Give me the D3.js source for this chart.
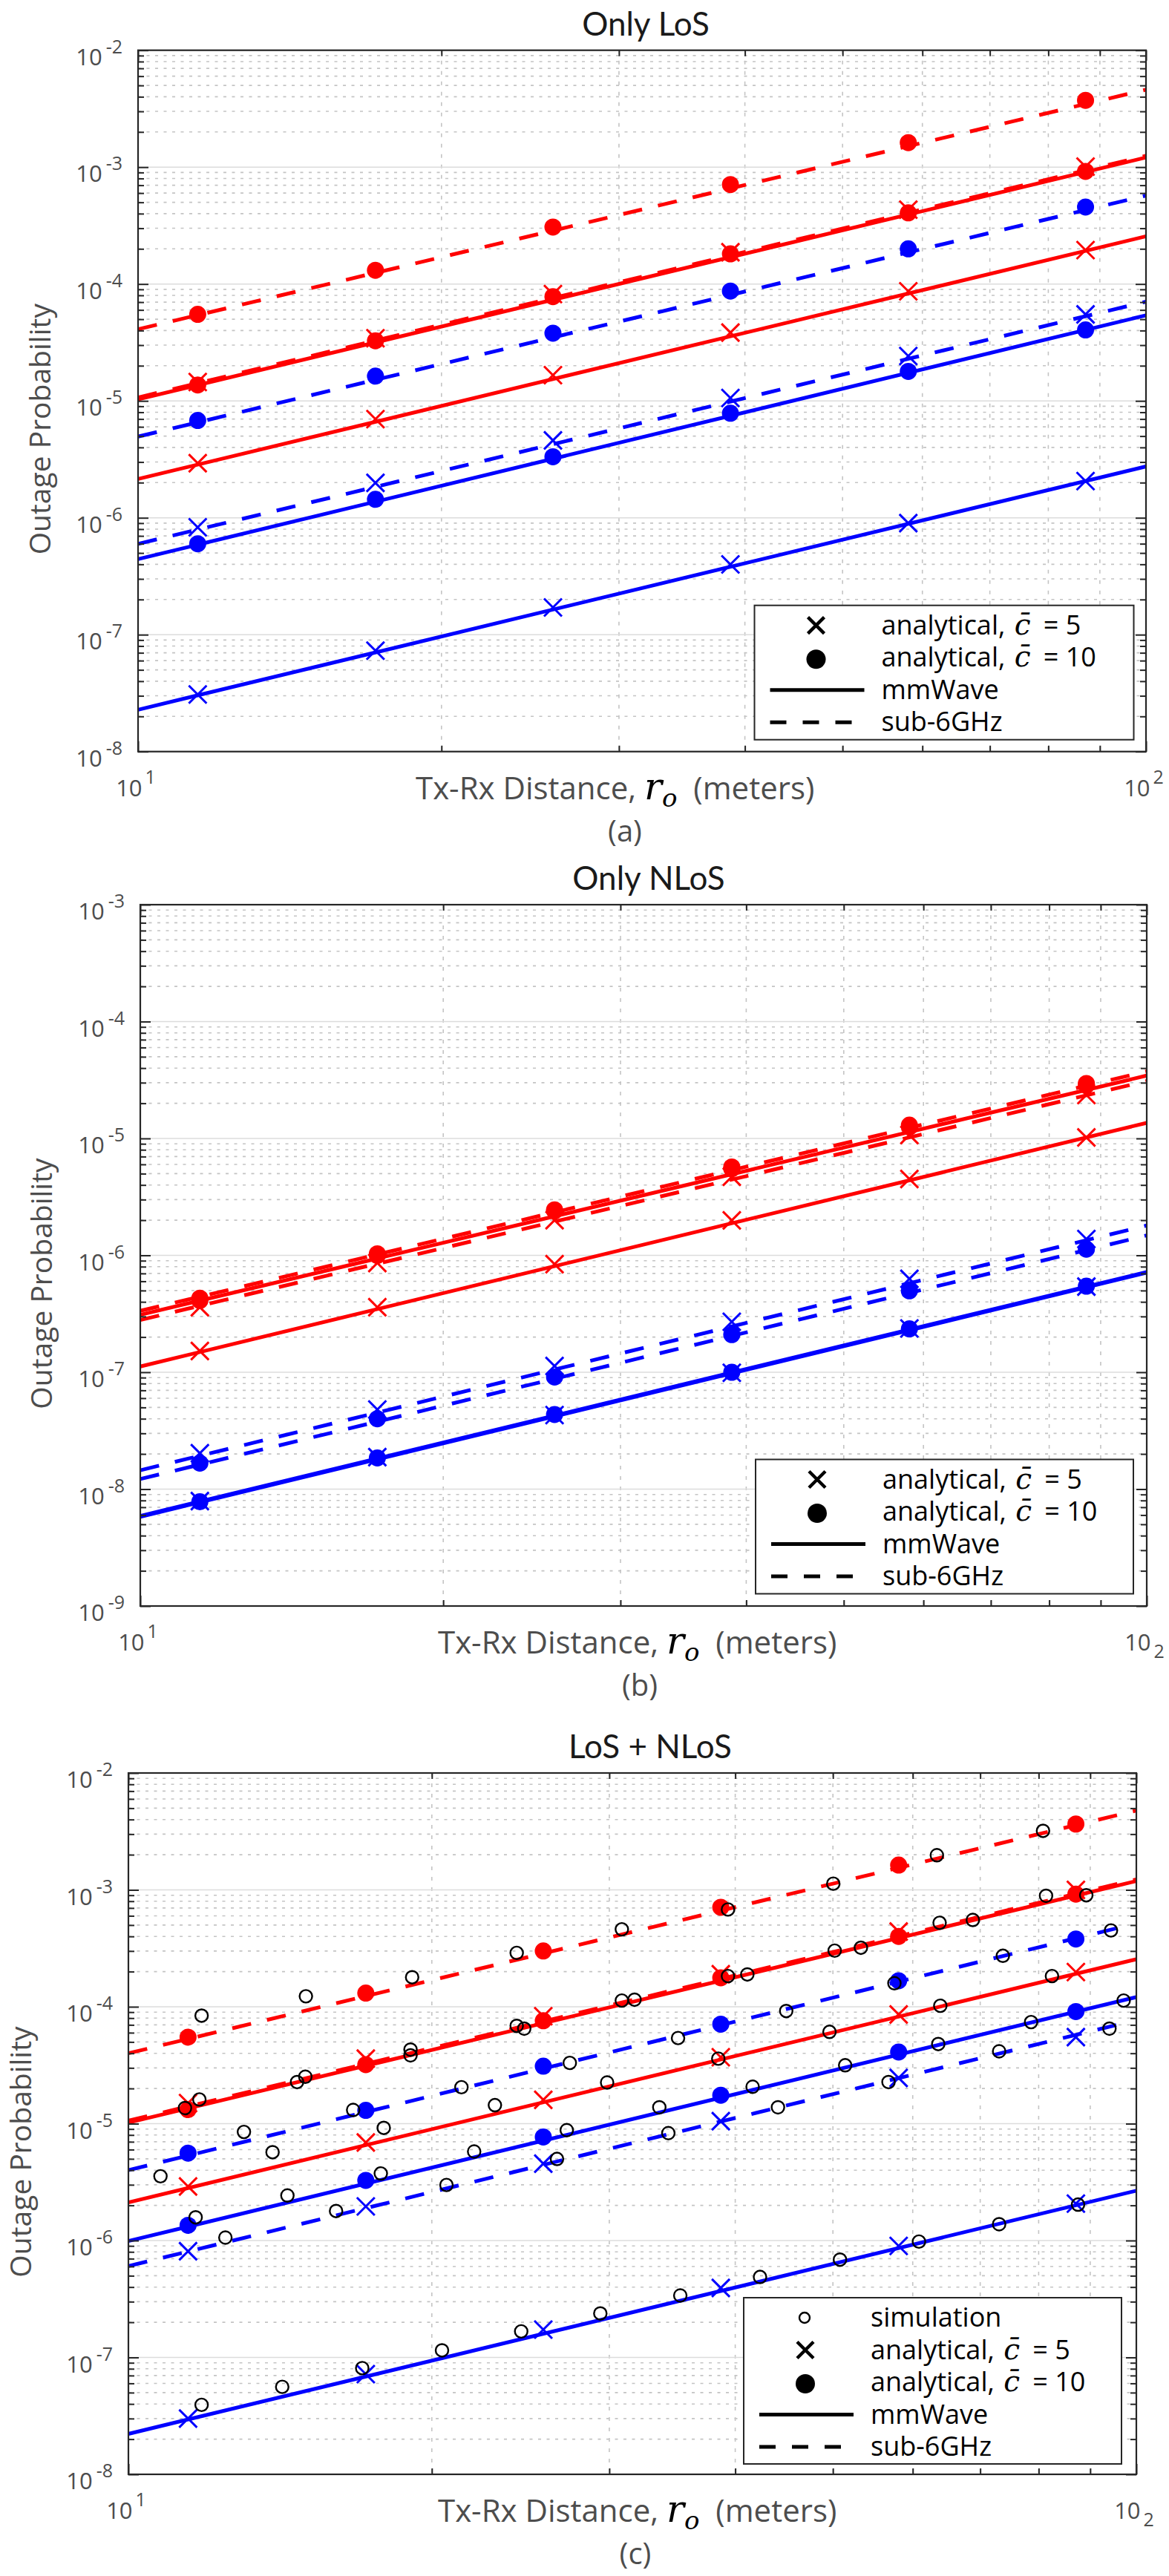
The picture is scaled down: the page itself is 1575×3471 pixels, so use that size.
<!DOCTYPE html>
<html>
<head>
<meta charset="utf-8">
<script src="https://cdn.jsdelivr.net/npm/d3@7"></script>
<style>
  body { margin: 0; background: #fff; }
  svg { display: block; }
</style>
</head>
<body>
<svg id="fig"></svg>
<script>
// x positions of the analytical markers (meters)
const xMarks = [11.46, 17.2, 25.8, 38.7, 58.1, 87.1];
const lineEnds = [10, 100];
const bothSubEnds = [10, 96.3];

// (a) Only LoS -- line values at lineEnds
const losMmRed5 = [2.15e-6, 2.56e-4];
const losMmRed10 = [1.03e-5, 1.21e-3];
const losSubRed5 = [1.07e-5, 1.25e-3];
const losSubRed10 = [4.1e-5, 4.6e-3];
const losMmBlue5 = [2.28e-8, 2.75e-6];
const losMmBlue10 = [4.43e-7, 5.4e-5];
const losSubBlue5 = [5.98e-7, 7.06e-5];
const losSubBlue10 = [4.95e-6, 5.71e-4];
// (a) marker values at xMarks
const losMmRed5Pts = [2.93e-6, 6.98e-6, 1.66e-5, 3.84e-5, 8.67e-5, 1.95e-4];
const losMmRed10Pts = [1.37e-5, 3.27e-5, 7.8e-5, 1.81e-4, 4.06e-4, 9.2e-4];
const losSubRed5Pts = [1.45e-5, 3.44e-5, 8.2e-5, 1.87e-4, 4.33e-4, 1.01e-3];
const losSubRed10Pts = [5.5e-5, 1.31e-4, 3.07e-4, 7.1e-4, 1.62e-3, 3.73e-3];
const losMmBlue5Pts = [3.08e-8, 7.3e-8, 1.71e-7, 3.99e-7, 9.0e-7, 2.06e-6];
const losMmBlue10Pts = [6.0e-7, 1.44e-6, 3.33e-6, 7.85e-6, 1.79e-5, 4.05e-5];
const losSubBlue5Pts = [8.3e-7, 1.99e-6, 4.6e-6, 1.06e-5, 2.42e-5, 5.5e-5];
const losSubBlue10Pts = [6.8e-6, 1.63e-5, 3.8e-5, 8.7e-5, 2.0e-4, 4.56e-4];

// (b) Only NLoS
const nlosMmRed5 = [1.12e-7, 1.36e-5];
const nlosMmRed10 = [3.1e-7, 3.45e-5];
const nlosSubRed5 = [2.8e-7, 3.1e-5];
const nlosSubRed10 = [3.35e-7, 3.75e-5];
const nlosMmBlue5 = [5.8e-9, 7.1e-7];
const nlosMmBlue10 = [5.9e-9, 7.2e-7];
const nlosSubBlue5 = [1.45e-8, 1.8e-6];
const nlosSubBlue10 = [1.22e-8, 1.48e-6];
const nlosMmRed5Pts = [1.52e-7, 3.6e-7, 8.4e-7, 1.99e-6, 4.5e-6, 1.02e-5];
const nlosMmRed10Pts = [4.1e-7, 1.0e-6, 2.4e-6, 5.5e-6, 1.25e-5, 2.85e-5];
const nlosSubRed5Pts = [3.6e-7, 8.6e-7, 2.0e-6, 4.7e-6, 1.07e-5, 2.35e-5];
const nlosSubRed10Pts = [4.3e-7, 1.03e-6, 2.45e-6, 5.7e-6, 1.3e-5, 2.95e-5];
const nlosMmBlue5Pts = [7.9e-9, 1.88e-8, 4.3e-8, 9.9e-8, 2.37e-7, 5.4e-7];
const nlosMmBlue10Pts = [7.8e-9, 1.85e-8, 4.35e-8, 1.0e-7, 2.35e-7, 5.45e-7];
const nlosSubBlue5Pts = [2.03e-8, 4.8e-8, 1.13e-7, 2.7e-7, 6.3e-7, 1.38e-6];
const nlosSubBlue10Pts = [1.67e-8, 4.0e-8, 9.1e-8, 2.1e-7, 4.97e-7, 1.13e-6];

// (c) LoS + NLoS
const bothMmRed5 = [2.12e-6, 2.55e-4];
const bothMmRed10 = [1.02e-5, 1.19e-3];
const bothSubRed5 = [1.06e-5, 1.23e-3];
const bothSubRed10 = [4.0e-5, 4.77e-3];
const bothMmBlue5 = [2.22e-8, 2.67e-6];
const bothMmBlue10 = [9.9e-7, 1.21e-4];
const bothSubBlue5 = [6.05e-7, 7.1e-5];
const bothSubBlue10 = [4.0e-6, 4.77e-4];
const bothMmRed5Pts = [2.9e-6, 6.9e-6, 1.6e-5, 3.7e-5, 8.6e-5, 1.98e-4];
const bothMmRed10Pts = [1.32e-5, 3.2e-5, 7.6e-5, 1.77e-4, 4.0e-4, 9.2e-4];
const bothSubRed5Pts = [1.5e-5, 3.6e-5, 8.3e-5, 1.9e-4, 4.4e-4, 1.0e-3];
const bothSubRed10Pts = [5.5e-5, 1.31e-4, 3.0e-4, 7.1e-4, 1.63e-3, 3.66e-3];
const bothMmBlue5Pts = [3.0e-8, 7.2e-8, 1.73e-7, 3.93e-7, 9.0e-7, 2.07e-6];
const bothMmBlue10Pts = [1.35e-6, 3.27e-6, 7.7e-6, 1.75e-5, 4.1e-5, 9.1e-5];
const bothSubBlue5Pts = [8.1e-7, 1.96e-6, 4.55e-6, 1.05e-5, 2.46e-5, 5.5e-5];
const bothSubBlue10Pts = [5.6e-6, 1.3e-5, 3.1e-5, 7.1e-5, 1.67e-4, 3.8e-4];

// (c) simulation points
const simX = [11.82, 15.0, 19.12, 24.28, 30.87, 39.34, 50.04, 63.4, 80.8,
  11.38, 11.76, 14.70, 14.98, 19.05, 19.05, 24.28, 24.70, 30.87, 31.78, 39.34, 41.12, 50.2, 53.3, 63.8, 68.83, 81.36, 89.19,
  10.76, 13.02, 16.71, 21.40, 27.41, 35.10, 44.94, 57.54, 73.72, 94.37,
  13.90, 17.92, 23.10, 29.85, 38.48, 49.61, 63.9, 82.47,
  11.66, 14.38, 17.80, 22.03, 27.22, 33.63, 41.62, 51.42, 63.6, 78.63, 97.14,
  12.48, 16.07, 20.68, 26.62, 34.33, 44.10, 56.77, 73.09, 94.04,
  11.82, 14.21, 17.06, 20.47, 24.53, 29.39, 35.28, 42.33, 50.81, 60.86, 73.09, 87.53];
const simY = [8.4e-5, 1.23e-4, 1.79e-4, 2.89e-4, 4.6e-4, 6.8e-4, 1.13e-3, 1.98e-3, 3.2e-3,
  1.36e-5, 1.61e-5, 2.27e-5, 2.52e-5, 4.3e-5, 3.84e-5, 6.87e-5, 6.5e-5, 1.13e-4, 1.15e-4, 1.83e-4, 1.89e-4, 3.02e-4, 3.2e-4, 5.23e-4, 5.53e-4, 8.9e-4, 9.0e-4,
  3.55e-6, 8.5e-6, 1.31e-5, 2.05e-5, 3.31e-5, 5.4e-5, 9.2e-5, 1.59e-4, 2.73e-4, 4.5e-4,
  5.7e-6, 9.2e-6, 1.44e-5, 2.25e-5, 3.6e-5, 6.1e-5, 1.02e-4, 1.83e-4,
  1.58e-6, 2.43e-6, 3.75e-6, 5.78e-6, 8.8e-6, 1.38e-5, 2.07e-5, 3.16e-5, 4.8e-5, 7.4e-5, 1.13e-4,
  1.06e-6, 1.79e-6, 2.99e-6, 4.99e-6, 8.3e-6, 1.38e-5, 2.27e-5, 4.16e-5, 6.5e-5,
  3.93e-8, 5.6e-8, 8.1e-8, 1.15e-7, 1.67e-7, 2.38e-7, 3.39e-7, 4.88e-7, 6.87e-7, 9.8e-7, 1.38e-6, 2.03e-6];

// tick labels
const xTickBase = ['10', '10'];
const xTickPow = ['1', '2'];
const yPowA = ['-2', '-3', '-4', '-5', '-6', '-7', '-8'];
const yPowB = ['-3', '-4', '-5', '-6', '-7', '-8', '-9'];
const yPowC = ['-2', '-3', '-4', '-5', '-6', '-7', '-8'];
const legendRows = ['analytical, ', 'analytical, ', 'mmWave', 'sub-6GHz'];

const RED = '#ff0000';
const BLUE = '#0000ff';
const GRAY_TXT = '#4d4d4d';
const AX = '#262626';
const SANS = "'Open Sans', 'Noto Sans', sans-serif";
const NARROW = "Lato, 'Open Sans', sans-serif";
const SERIF = "'DejaVu Serif', 'Liberation Serif', serif";

const svg = d3.select('#fig').attr('width', 1575).attr('height', 3471);
svg.append('rect').attr('width', 1575).attr('height', 3471).attr('fill', '#fff');

function mk(ends, line, pts, color, dashed, mark) {
  return { ends, line, pts, color, dashed, mark };
}

const panels = [
  {
    title: 'Only LoS', titleX: 870, tag: '(a)', tagX: 842, xlabX: 560, ylabX: 54,
    left: 186, right: 1544, top: 67.7, bottom: 1012.7,
    yDomain: [1e-8, 1e-2], yPow: yPowA, subTwo: false,
    series: [
      mk(lineEnds, losSubRed10, losSubRed10Pts, RED, true, 'o'),
      mk(lineEnds, losSubRed5, losSubRed5Pts, RED, true, 'x'),
      mk(lineEnds, losMmRed10, losMmRed10Pts, RED, false, 'o'),
      mk(lineEnds, losMmRed5, losMmRed5Pts, RED, false, 'x'),
      mk(lineEnds, losSubBlue10, losSubBlue10Pts, BLUE, true, 'o'),
      mk(lineEnds, losSubBlue5, losSubBlue5Pts, BLUE, true, 'x'),
      mk(lineEnds, losMmBlue10, losMmBlue10Pts, BLUE, false, 'o'),
      mk(lineEnds, losMmBlue5, losMmBlue5Pts, BLUE, false, 'x')
    ],
    legend: { x: 1016.5, y: 815.7, w: 511, sim: false }
  },
  {
    title: 'Only NLoS', titleX: 874, tag: '(b)', tagX: 862, xlabX: 590, ylabX: 56,
    left: 189, right: 1545, top: 1219, bottom: 2164,
    yDomain: [1e-9, 1e-3], yPow: yPowB, subTwo: true,
    series: [
      mk(lineEnds, nlosSubRed10, nlosSubRed10Pts, RED, true, 'o'),
      mk(lineEnds, nlosSubRed5, nlosSubRed5Pts, RED, true, 'x'),
      mk(lineEnds, nlosMmRed10, nlosMmRed10Pts, RED, false, 'o'),
      mk(lineEnds, nlosMmRed5, nlosMmRed5Pts, RED, false, 'x'),
      mk(lineEnds, nlosSubBlue10, nlosSubBlue10Pts, BLUE, true, 'o'),
      mk(lineEnds, nlosSubBlue5, nlosSubBlue5Pts, BLUE, true, 'x'),
      mk(lineEnds, nlosMmBlue10, nlosMmBlue10Pts, BLUE, false, 'o'),
      mk(lineEnds, nlosMmBlue5, nlosMmBlue5Pts, BLUE, false, 'x')
    ],
    legend: { x: 1018, y: 1966.5, w: 509, sim: false }
  },
  {
    title: 'LoS + NLoS', titleX: 876, tag: '(c)', tagX: 856, xlabX: 590, ylabX: 28,
    left: 173, right: 1531, top: 2389, bottom: 3334,
    yDomain: [1e-8, 1e-2], yPow: yPowC, subTwo: true,
    series: [
      mk(lineEnds, bothSubRed10, bothSubRed10Pts, RED, true, 'o'),
      mk(lineEnds, bothSubRed5, bothSubRed5Pts, RED, true, 'x'),
      mk(lineEnds, bothMmRed10, bothMmRed10Pts, RED, false, 'o'),
      mk(lineEnds, bothMmRed5, bothMmRed5Pts, RED, false, 'x'),
      mk(bothSubEnds, bothSubBlue10, bothSubBlue10Pts, BLUE, true, 'o'),
      mk(bothSubEnds, bothSubBlue5, bothSubBlue5Pts, BLUE, true, 'x'),
      mk(lineEnds, bothMmBlue10, bothMmBlue10Pts, BLUE, false, 'o'),
      mk(lineEnds, bothMmBlue5, bothMmBlue5Pts, BLUE, false, 'x')
    ],
    sim: true,
    legend: { x: 1002, y: 3096, w: 509, sim: true }
  }
];

function xMarker(g, cx, cy, h, color, sw) {
  g.append('path')
    .attr('d', `M${cx - h},${cy - h}L${cx + h},${cy + h}M${cx - h},${cy + h}L${cx + h},${cy - h}`)
    .attr('stroke', color).attr('stroke-width', sw).attr('fill', 'none');
}

function renderPanel(p) {
  const x = d3.scaleLog().domain([10, 100]).range([p.left, p.right]);
  const y = d3.scaleLog().domain(p.yDomain).range([p.bottom, p.top]);
  const w = p.right - p.left;
  const h = p.bottom - p.top;
  const g = svg.append('g');

  const yTicks = y.ticks();
  const xTicks = x.ticks();
  const isMajor = v => Math.abs(Math.log10(v) - Math.round(Math.log10(v))) < 1e-9;
  const yMinor = yTicks.filter(v => !isMajor(v));
  const yMajor = yTicks.filter(isMajor);
  const xMinor = xTicks.filter(v => !isMajor(v));
  const xMajor = xTicks.filter(isMajor);

  // grid
  const grid = g.append('g');
  grid.selectAll('.ymin').data(yMinor).enter().append('line')
    .attr('x1', p.left).attr('x2', p.right)
    .attr('y1', d => y(d)).attr('y2', d => y(d))
    .attr('stroke', '#c4c4c4').attr('stroke-width', 1.6).attr('stroke-dasharray', '4,7.5');
  grid.selectAll('.xmin').data(xMinor).enter().append('line')
    .attr('y1', p.top).attr('y2', p.bottom)
    .attr('x1', d => x(d)).attr('x2', d => x(d))
    .attr('stroke', '#c4c4c4').attr('stroke-width', 1.6).attr('stroke-dasharray', '5,9');
  grid.selectAll('.ymaj').data(yMajor).enter().append('line')
    .attr('x1', p.left).attr('x2', p.right)
    .attr('y1', d => y(d)).attr('y2', d => y(d))
    .attr('stroke', '#dcdcdc').attr('stroke-width', 1.6);

  // curves
  const line = d3.line().x(d => x(d[0])).y(d => y(d[1]));
  p.series.forEach(s => {
    g.append('path')
      .datum(s.ends.map((e, i) => [e, s.line[i]]))
      .attr('d', line)
      .attr('fill', 'none')
      .attr('stroke', s.color)
      .attr('stroke-width', 5)
      .attr('stroke-dasharray', s.dashed ? '26,22' : null);
  });
  p.series.forEach(s => {
    xMarks.forEach((xv, i) => {
      if (s.mark === 'o') {
        g.append('circle').attr('cx', x(xv)).attr('cy', y(s.pts[i])).attr('r', 11.5).attr('fill', s.color);
      } else {
        xMarker(g, x(xv), y(s.pts[i]), 12, s.color, 3);
      }
    });
  });

  if (p.sim) {
    g.selectAll('.sim').data(d3.zip(simX, simY)).enter().append('circle')
      .attr('cx', d => x(d[0])).attr('cy', d => y(d[1])).attr('r', 8.5)
      .attr('fill', 'none').attr('stroke', '#000').attr('stroke-width', 2.4);
  }

  // axes: ticks pointing inward on all four sides
  const tickAxis = (axis, tr, vals, size) => {
    const a = g.append('g').attr('transform', tr)
      .call(axis.tickValues(vals).tickSize(size).tickFormat(''));
    a.select('.domain').remove();
    a.selectAll('line').attr('stroke', AX).attr('stroke-width', 2);
  };
  tickAxis(d3.axisLeft(y), `translate(${p.left},0)`, yMajor, -14);
  tickAxis(d3.axisLeft(y), `translate(${p.left},0)`, yMinor, -8);
  tickAxis(d3.axisRight(y), `translate(${p.right},0)`, yMajor, -14);
  tickAxis(d3.axisRight(y), `translate(${p.right},0)`, yMinor, -8);
  tickAxis(d3.axisBottom(x), `translate(0,${p.bottom})`, xMajor, -14);
  tickAxis(d3.axisBottom(x), `translate(0,${p.bottom})`, xMinor, -8);
  tickAxis(d3.axisTop(x), `translate(0,${p.top})`, xMajor, -14);
  tickAxis(d3.axisTop(x), `translate(0,${p.top})`, xMinor, -8);

  g.append('rect').attr('x', p.left).attr('y', p.top).attr('width', w).attr('height', h)
    .attr('fill', 'none').attr('stroke', AX).attr('stroke-width', 2.2);

  // y tick labels
  yMajor.slice().sort((a, b) => b - a).forEach((v, i) => {
    const t = g.append('text').attr('x', p.left - 21).attr('y', y(v) + 20)
      .attr('text-anchor', 'end').attr('font-family', SANS).attr('font-size', 31).attr('fill', GRAY_TXT);
    t.append('tspan').text('10');
    t.append('tspan').attr('dx', 5).attr('dy', -16).attr('font-size', 25).text(p.yPow[i]);
  });

  // x tick labels
  xMajor.forEach((v, i) => {
    const t = g.append('text').attr('x', x(v) - 3).attr('y', p.bottom + 60)
      .attr('text-anchor', 'middle').attr('font-family', SANS).attr('font-size', 31).attr('fill', GRAY_TXT);
    t.append('tspan').text(xTickBase[i]);
    const sub = p.subTwo && i === 1;
    t.append('tspan').attr('dx', 4).attr('dy', sub ? 10 : -17).attr('font-size', 25).text(xTickPow[i]);
  });

  // titles and labels
  g.append('text').attr('x', p.titleX).attr('y', p.top - 20).attr('text-anchor', 'middle')
    .attr('font-family', NARROW).attr('font-size', 44).attr('fill', '#1a1a1a').text(p.title);

  const xl = g.append('text').attr('x', p.xlabX).attr('y', p.bottom + 64)
    .attr('font-family', SANS).attr('font-size', 42).attr('fill', GRAY_TXT);
  xl.append('tspan').text('Tx-Rx Distance, ');
  xl.append('tspan').attr('font-family', SERIF).attr('font-style', 'italic').attr('font-size', 50).attr('fill', '#000').text('r');
  xl.append('tspan').attr('font-family', SERIF).attr('font-style', 'italic').attr('font-size', 34).attr('fill', '#000').attr('dy', 10).text('o');
  xl.append('tspan').attr('dy', -10).text('\u00a0 (meters)');

  g.append('text').attr('x', p.tagX).attr('y', p.bottom + 121).attr('text-anchor', 'middle')
    .attr('font-family', SANS).attr('font-size', 40).attr('fill', GRAY_TXT).text(p.tag);

  g.append('text')
    .attr('transform', `translate(${p.ylabX},${(p.top + p.bottom) / 2 + 38}) rotate(-90)`)
    .attr('text-anchor', 'middle').attr('dy', 14)
    .attr('font-family', SANS).attr('font-size', 39).attr('fill', GRAY_TXT)
    .text('Outage Probability');

  renderLegend(g, p.legend);
}

function renderLegend(g, L) {
  const rowH = 43.5;
  const boxH = L.sim ? 224 : 181;
  const lg = g.append('g').attr('transform', `translate(${L.x},${L.y})`);
  lg.append('rect').attr('width', L.w).attr('height', boxH)
    .attr('fill', '#fff').attr('stroke', AX).attr('stroke-width', 2);
  let r = 0;
  const rowY = k => 27 + k * rowH;
  const label = (k, txt, cval) => {
    const t = lg.append('text').attr('x', 171).attr('y', rowY(k) + 12)
      .attr('font-family', SANS).attr('font-size', 36).attr('fill', '#000');
    t.append('tspan').text(txt);
    if (cval) {
      t.append('tspan').attr('dx', 3).attr('font-family', SERIF).attr('font-style', 'italic').attr('font-size', 39).text('c\u0304');
      t.append('tspan').attr('dx', 8).text(' = ' + cval);
    }
  };
  if (L.sim) {
    lg.append('circle').attr('cx', 82).attr('cy', rowY(r)).attr('r', 7)
      .attr('fill', 'none').attr('stroke', '#000').attr('stroke-width', 2.4);
    label(r, 'simulation');
    r++;
  }
  xMarker(lg, 83, rowY(r), 11, '#000', 4.5);
  label(r, legendRows[0], '5');
  r++;
  lg.append('circle').attr('cx', 83).attr('cy', rowY(r) + 2).attr('r', 13).attr('fill', '#000');
  label(r, legendRows[1], '10');
  r++;
  lg.append('line').attr('x1', 21).attr('x2', 148).attr('y1', rowY(r)).attr('y2', rowY(r))
    .attr('stroke', '#000').attr('stroke-width', 5);
  label(r, legendRows[2]);
  r++;
  lg.append('line').attr('x1', 21).attr('x2', 148).attr('y1', rowY(r)).attr('y2', rowY(r))
    .attr('stroke', '#000').attr('stroke-width', 5).attr('stroke-dasharray', '22,22');
  label(r, legendRows[3]);
}

panels.forEach(renderPanel);
</script>
</body>
</html>
